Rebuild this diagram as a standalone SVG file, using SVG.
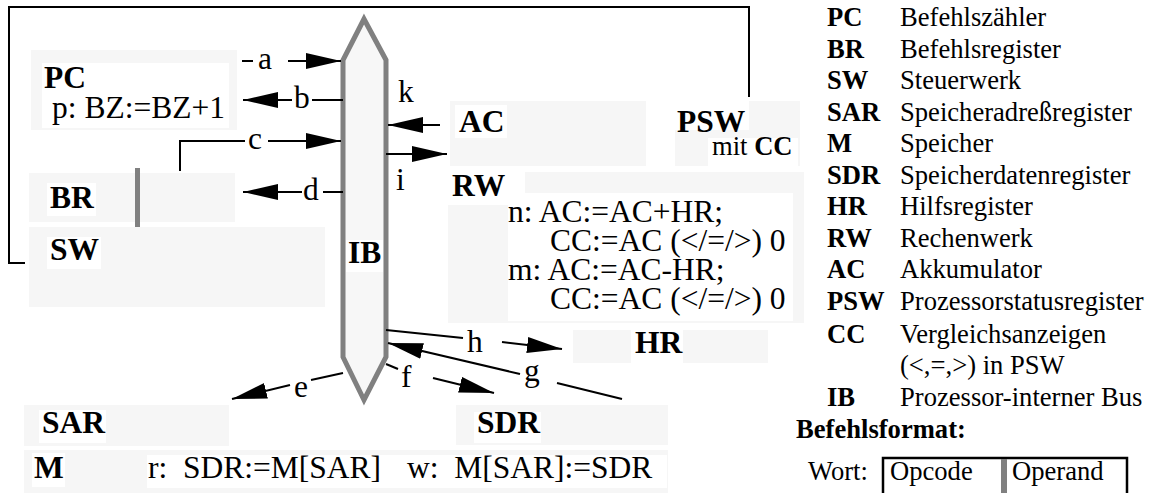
<svg xmlns="http://www.w3.org/2000/svg" width="1150" height="493" viewBox="0 0 1150 493" font-family="'Liberation Serif', serif">
<style>
.bx{fill:#f6f6f6}
.wh{fill:#ffffff}
.t{font-family:"Liberation Serif","Times New Roman",serif;font-size:31.5px;fill:#000}
.lg{font-family:"Liberation Serif","Times New Roman",serif;font-size:26.6px;fill:#000}
.b{font-weight:bold}
.ln{stroke:#000;stroke-width:2;fill:none}
.ar{marker-end:url(#ah)}
.gr{fill:#808080}
</style>
<defs>
<marker id="ah" markerUnits="userSpaceOnUse" markerWidth="35" markerHeight="16" refX="35" refY="8" orient="auto" viewBox="0 0 35 16">
<path d="M0,0 L35,8 L0,16 Z" fill="#000"/>
</marker>
</defs>
<rect width="1150" height="493" fill="#fff"/>

<g id="PC">
<rect class="bx" x="31" y="50" width="206" height="80"/>
<rect class="wh" x="42" y="63" width="187" height="65"/>
<text class="t b" x="44" y="88">PC</text>
<text class="t" x="52" y="118">p: BZ:=BZ+1</text>
</g>

<g id="BR">
<rect class="bx" x="29" y="173" width="206" height="49"/>
<rect class="wh" x="47" y="183" width="49" height="33"/>
<rect class="gr" x="135" y="168" width="5" height="59"/>
<text class="t b" x="50" y="208">BR</text>
</g>

<g id="SW">
<rect class="bx" x="29" y="227" width="296" height="80"/>
<rect class="wh" x="47" y="237" width="54" height="32"/>
<text class="t b" x="50" y="260">SW</text>
</g>

<g id="IB">
<polygon points="364,19 386,60 386,357 364,400 343,357 343,60" fill="#f7f7f7" stroke="#808080" stroke-width="5"/>
<rect class="wh" x="346" y="240" width="37" height="32"/>
<text class="t b" x="348" y="263">IB</text>
</g>

<g id="AC">
<rect class="bx" x="450" y="101" width="196" height="65"/>
<rect class="wh" x="455" y="105" width="52" height="33"/>
<text class="t b" x="459" y="132">AC</text>
</g>

<g id="PSW">
<rect class="bx" x="675" y="101" width="125" height="65"/>
<rect class="wh" x="675" y="101" width="74" height="29"/>
<rect class="wh" x="708" y="138" width="90" height="28"/>
<text class="t b" x="677" y="132">PSW</text>
<text class="lg" x="712" y="155">mit <tspan class="b">CC</tspan></text>
</g>

<g id="RW">
<rect class="bx" x="448" y="172" width="356" height="151"/>
<rect class="wh" x="448" y="172" width="77" height="33"/>
<rect class="wh" x="508" y="193" width="285" height="128"/>
<text class="t b" x="452" y="196">RW</text>
<text class="t" x="508" y="222">n: AC:=AC+HR;</text>
<text class="t" x="550" y="251">CC:=AC (&lt;/=/&gt;) 0</text>
<text class="t" x="508" y="280">m: AC:=AC-HR;</text>
<text class="t" x="550" y="309">CC:=AC (&lt;/=/&gt;) 0</text>
</g>

<g id="HR">
<rect class="bx" x="573" y="330" width="195" height="33"/>
<rect class="wh" x="631" y="330" width="52" height="33"/>
<text class="t b" x="635" y="353">HR</text>
</g>

<g id="SAR">
<rect class="bx" x="24" y="405" width="205" height="41"/>
<rect class="wh" x="39" y="410" width="67" height="33"/>
<text class="t b" x="42" y="433">SAR</text>
</g>

<g id="SDR">
<rect class="bx" x="456" y="405" width="212" height="40"/>
<rect class="wh" x="474" y="412" width="67" height="31"/>
<text class="t b" x="477" y="433">SDR</text>
</g>

<g id="M">
<rect class="bx" x="24" y="450" width="644" height="43"/>
<rect class="wh" x="32" y="453" width="33" height="34"/>
<rect class="wh" x="147" y="455" width="520" height="33"/>
<text class="t b" x="34" y="478">M</text>
<text class="t" x="148" y="478" xml:space="preserve" style="white-space:pre">r:  SDR:=M[SAR]</text>
<text class="t" x="407" y="478" xml:space="preserve" style="white-space:pre">w:  M[SAR]:=SDR</text>
</g>

<g id="connectors">
<path class="ln" d="M25,263 H9 V7 H749 V97"/>
<line class="ln" x1="242" y1="61" x2="253" y2="61"/>
<text class="t" x="258" y="69">a</text>
<line class="ln ar" x1="288" y1="61" x2="341" y2="61"/>
<line class="ln ar" x1="292" y1="100" x2="243" y2="100"/>
<text class="t" x="294" y="108">b</text>
<line class="ln" x1="312" y1="100" x2="343" y2="100"/>
<path class="ln" d="M180,171 V141 H245"/>
<text class="t" x="248" y="149">c</text>
<line class="ln ar" x1="268" y1="141" x2="341" y2="141"/>
<line class="ln ar" x1="302" y1="192" x2="243" y2="192"/>
<text class="t" x="303" y="200">d</text>
<line class="ln" x1="323" y1="192" x2="343" y2="192"/>
<text class="t" x="398" y="102">k</text>
<line class="ln ar" x1="440" y1="125" x2="388" y2="125"/>
<line class="ln ar" x1="386" y1="154" x2="447" y2="154"/>
<text class="t" x="396" y="190">i</text>
<line class="ln" x1="386" y1="330" x2="463" y2="338"/>
<text class="t" x="467" y="352">h</text>
<line class="ln ar" x1="502" y1="342" x2="562" y2="349"/>
<line class="ln" x1="622" y1="399" x2="557" y2="383"/>
<text class="t" x="524" y="381">g</text>
<line class="ln ar" x1="520" y1="374" x2="388" y2="343"/>
<line class="ln" x1="386" y1="364" x2="398" y2="369"/>
<text class="t" x="401" y="387">f</text>
<line class="ln ar" x1="433" y1="378" x2="494" y2="393"/>
<line class="ln" x1="343" y1="373" x2="311" y2="380"/>
<text class="t" x="294" y="397">e</text>
<line class="ln ar" x1="290" y1="385" x2="232" y2="399"/>
</g>

<g id="legend">
<text class="lg b" x="827" y="26">PC</text><text class="lg" x="900" y="26">Befehlszähler</text>
<text class="lg b" x="827" y="57.5">BR</text><text class="lg" x="900" y="57.5">Befehlsregister</text>
<text class="lg b" x="827" y="89">SW</text><text class="lg" x="900" y="89">Steuerwerk</text>
<text class="lg b" x="827" y="120.5">SAR</text><text class="lg" x="900" y="120.5">Speicheradreßregister</text>
<text class="lg b" x="827" y="152">M</text><text class="lg" x="900" y="152">Speicher</text>
<text class="lg b" x="827" y="183.5">SDR</text><text class="lg" x="900" y="183.5">Speicherdatenregister</text>
<text class="lg b" x="827" y="215">HR</text><text class="lg" x="900" y="215">Hilfsregister</text>
<text class="lg b" x="827" y="246.5">RW</text><text class="lg" x="900" y="246.5">Rechenwerk</text>
<text class="lg b" x="827" y="278">AC</text><text class="lg" x="900" y="278">Akkumulator</text>
<text class="lg b" x="827" y="309.5">PSW</text><text class="lg" x="900" y="309.5">Prozessorstatusregister</text>
<text class="lg b" x="827" y="343">CC</text><text class="lg" x="900" y="343">Vergleichsanzeigen</text>
<text class="lg" x="900" y="374">(&lt;,=,&gt;) in PSW</text>
<text class="lg b" x="827" y="406">IB</text><text class="lg" x="900" y="406">Prozessor-interner Bus</text>
</g>

<g id="Befehlsformat">
<text class="lg b" x="796" y="438">Befehlsformat:</text>
<text class="lg" x="808" y="480">Wort:</text>
<path d="M883,493 V458 H1127 V493" fill="none" stroke="#000" stroke-width="2.5"/>
<rect class="gr" x="1001" y="459" width="6" height="34"/>
<text class="lg" x="890" y="480">Opcode</text>
<text class="lg" x="1012" y="480">Operand</text>
</g>
</svg>
